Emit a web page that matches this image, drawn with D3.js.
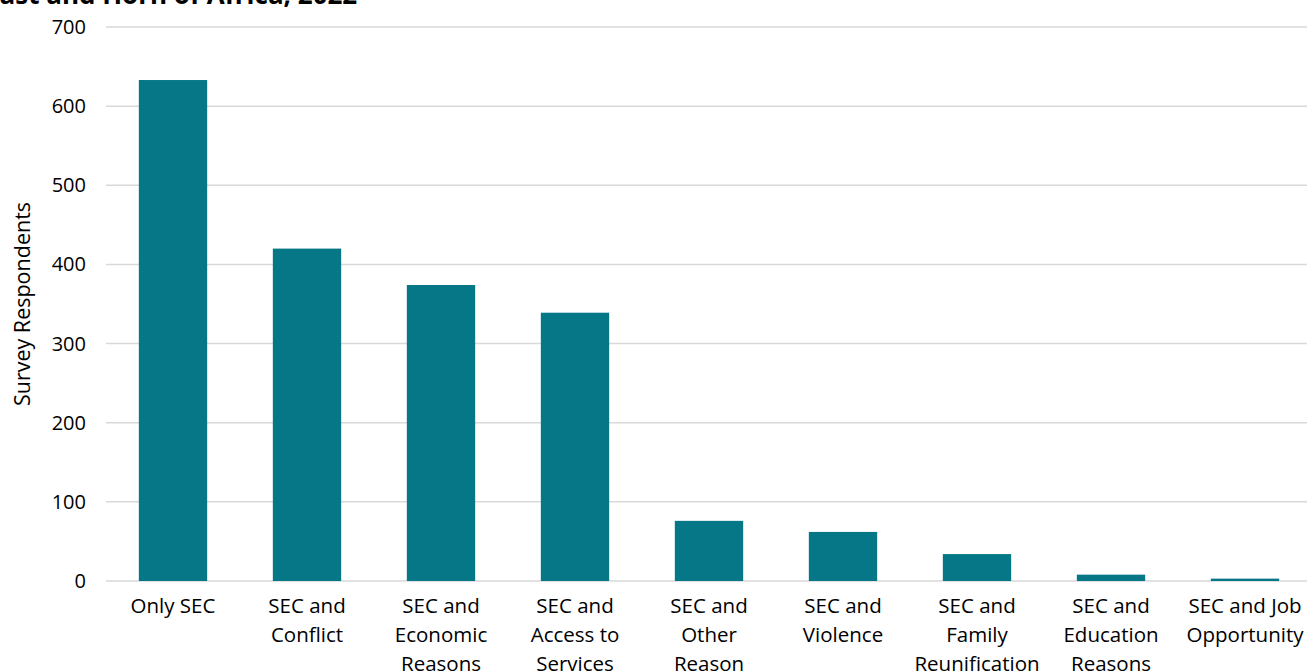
<!DOCTYPE html>
<html>
<head>
<meta charset="utf-8">
<script src="https://cdn.jsdelivr.net/npm/d3@7"></script>
<style>
  body { margin: 0; background: #fff; overflow: hidden; }
  text { font-family: "Open Sans", sans-serif; fill: #000; }
</style>
</head>
<body>
<div id="chart"></div>
<script>
// data
var categories = [
  ["Only SEC"],
  ["SEC and", "Conflict"],
  ["SEC and", "Economic", "Reasons"],
  ["SEC and", "Access to", "Services"],
  ["SEC and", "Other", "Reason"],
  ["SEC and", "Violence"],
  ["SEC and", "Family", "Reunification"],
  ["SEC and", "Education", "Reasons"],
  ["SEC and Job", "Opportunity"]
];
var respondents = [633, 420, 374, 339, 76, 62, 34, 8, 3];
var yTicks = [0, 100, 200, 300, 400, 500, 600, 700];
var titleText = "East and Horn of Africa, 2022";

var w = 1307, h = 672;
var mLeft = 106, mRight = 1312, mTop = 27, mBottom = 581;

var svg = d3.select("#chart")
  .append("svg")
  .attr("width", w)
  .attr("height", h);

var x = d3.scaleBand()
  .domain(d3.range(categories.length))
  .range([mLeft, mRight])
  .paddingInner(0.49)
  .paddingOuter(0.245);

var y = d3.scaleLinear()
  .domain([0, 700])
  .range([mBottom, mTop]);

// gridlines
svg.selectAll("line.grid")
  .data(yTicks)
  .enter()
  .append("line")
  .attr("class", "grid")
  .attr("x1", mLeft)
  .attr("x2", mRight)
  .attr("y1", function (d) { return y(d); })
  .attr("y2", function (d) { return y(d); })
  .style("stroke", "#d9d9d9")
  .style("stroke-width", 1.5);

// y tick labels
svg.selectAll("text.ytick")
  .data(yTicks)
  .enter()
  .append("text")
  .attr("class", "ytick")
  .attr("x", 86)
  .attr("y", function (d) { return y(d); })
  .attr("dy", "0.35em")
  .attr("text-anchor", "end")
  .style("font-size", "20px")
  .text(function (d) { return d; });

// bars
svg.selectAll("rect.bar")
  .data(respondents)
  .enter()
  .append("rect")
  .attr("class", "bar")
  .attr("x", function (d, i) { return x(i); })
  .attr("y", function (d) { return y(d); })
  .attr("width", x.bandwidth())
  .attr("height", function (d) { return mBottom - y(d); })
  .style("fill", "#067786");

// x labels
var xl = svg.selectAll("text.xlab")
  .data(categories)
  .enter()
  .append("text")
  .attr("class", "xlab")
  .attr("text-anchor", "middle")
  .style("font-size", "20.5px")
  .attr("transform", function (d, i) {
    return "translate(" + (x(i) + x.bandwidth() / 2) + ",613)";
  });

xl.selectAll("tspan")
  .data(function (d) { return d; })
  .enter()
  .append("tspan")
  .attr("x", 0)
  .attr("y", function (d, j) { return j * 29; })
  .text(function (d) { return d; });

// y axis title
svg.append("text")
  .attr("transform", "translate(30," + 304 + ") rotate(-90)")
  .attr("text-anchor", "middle")
  .style("font-size", "21.5px")
  .text("Survey Respondents");

// title (cut at the top)
svg.append("text")
  .attr("x", -15)
  .attr("y", 4)
  .style("font-size", "26px")
  .style("font-weight", "bold")
  .text(titleText);
</script>
</body>
</html>
